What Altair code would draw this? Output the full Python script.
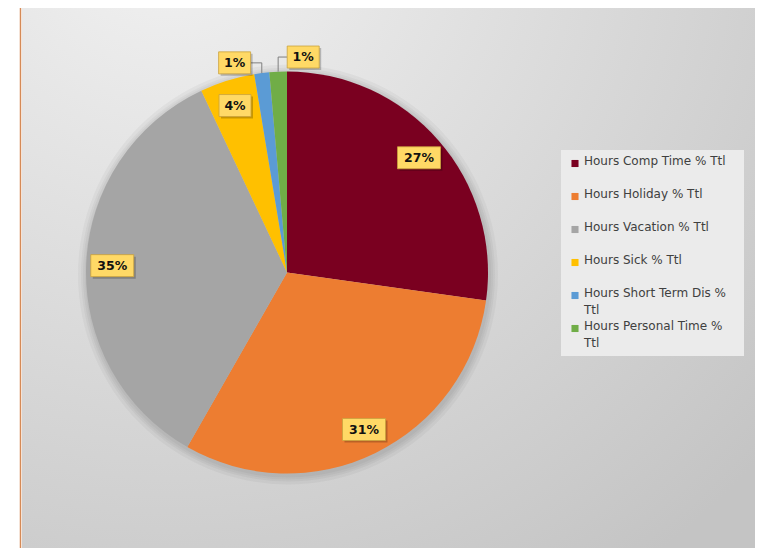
import altair as alt
import pandas as pd

# ---- data ----
cats = ["Hours Comp Time % Ttl", "Hours Holiday % Ttl", "Hours Vacation % Ttl",
        "Hours Sick % Ttl", "Hours Short Term Dis % Ttl", "Hours Personal Time % Ttl"]
values = [27.2, 31.0, 34.7, 4.4, 1.2, 1.4]
colors = ["#7A0020", "#ED7D31", "#A5A5A5", "#FFC000", "#5B9BD5", "#70AD47"]

df = pd.DataFrame({"cat": cats, "value": values, "idx": list(range(len(cats)))})

# ---- layout (pixels) ----
W, H = 747, 540
CX, CY = 279, 264.5          # pie centre in canvas pixels
R = 201                       # pie radius

xs = alt.Scale(domain=[-CX, W - CX], nice=False, zero=False)
ys = alt.Scale(domain=[-(H - CY), CY], nice=False, zero=False)
X = lambda f: alt.X(f, type="quantitative", scale=xs, axis=None)
Y = lambda f: alt.Y(f, type="quantitative", scale=ys, axis=None)
color = alt.Color("cat:N", scale=alt.Scale(domain=cats, range=colors), legend=None)

base = alt.Chart(df).transform_window(
    cum="sum(value)", sort=[alt.SortField("idx")], frame=[None, 0]
).transform_joinaggregate(
    total="sum(value)"
).transform_calculate(
    mid="(datum.cum - datum.value/2)/datum.total*2*PI",
    pct="datum.value/datum.total",
    text="format(datum.value/datum.total, '.0%')",
    hw="5 + 5.5*length(format(datum.value/datum.total, '.0%'))",
)

one = alt.Data(values=[{"a": 1}])

# background
bg = alt.Chart(one).mark_rect(
    color=alt.Gradient(gradient="radial", x1=0.2, y1=0.0, r1=0.0, x2=0.2, y2=0.0, r2=1.1,
                       stops=[alt.GradientStop(color="#F3F3F3", offset=0),
                              alt.GradientStop(color="#C4C4C4", offset=1)])
).encode(x=alt.value(14), x2=alt.value(W), y=alt.value(0), y2=alt.value(H))
white = alt.Chart(one).mark_rect(color="white").encode(
    x=alt.value(0), x2=alt.value(12), y=alt.value(0), y2=alt.value(H))
edge = alt.Chart(one).mark_rule(color="#D58A57", strokeWidth=1.5).encode(
    x=alt.value(12.5), y=alt.value(0), y2=alt.value(H))

# soft shadow round the pie
shadows = [alt.Chart(one).mark_arc(theta=0, theta2=6.2832, outerRadius=R + k, color="black",
                                   opacity=0.035).encode(x=alt.value(CX + 1), y=alt.value(CY + 2))
           for k in (2, 4, 6, 9)]

pie = base.mark_arc(outerRadius=R).encode(
    theta=alt.Theta("value:Q", stack=True),
    order=alt.Order("idx:Q"),
    color=color,
    x=alt.value(CX), y=alt.value(CY),
)

# ---- inside labels ----
inner = base.transform_filter("datum.pct >= 0.03").transform_calculate(
    lx=f"0.87*{R}*sin(datum.mid)", ly=f"0.87*{R}*cos(datum.mid)")

# ---- outside labels for tiny slices, spread apart ----
outer = base.transform_filter("datum.pct < 0.03").transform_window(
    rk="row_number()", sort=[alt.SortField("idx")]
).transform_joinaggregate(
    mm="mean(mid)", n="count()"
).transform_calculate(
    ang="datum.mm + (datum.rk - (datum.n + 1)/2)*0.32",
).transform_calculate(
    lx=f"1.075*{R}*sin(datum.ang)", ly=f"1.075*{R}*cos(datum.ang)",
    ax=f"{R}*sin(datum.mid)", ay=f"{R}*cos(datum.mid)",
).transform_calculate(
    ex="datum.lx < datum.ax ? datum.lx + datum.hw : datum.lx - datum.hw"
)

def label_layers(src):
    shadow = src.transform_calculate(
        x0="datum.lx - datum.hw + 2", x1="datum.lx + datum.hw + 2",
        y0="datum.ly - 11 - 2", y1="datum.ly + 11 - 2",
    ).mark_rect(color="black", opacity=0.22).encode(
        x=X("x0"), x2="x1", y=Y("y0"), y2="y1")
    box = src.transform_calculate(
        x0="datum.lx - datum.hw", x1="datum.lx + datum.hw",
        y0="datum.ly - 11", y1="datum.ly + 11",
    ).mark_rect(color="#FFD966", stroke="#C9A23E", strokeWidth=0.8).encode(
        x=X("x0"), x2="x1", y=Y("y0"), y2="y1")
    txt = src.mark_text(font="DejaVu Sans", fontWeight="bold", fontSize=12.5,
                        color="#111111", align="center", baseline="middle").encode(
        x=X("lx"), y=Y("ly"), text="text:N")
    return [shadow, box, txt]

lead_v = outer.mark_rule(color="#7F7F7F", strokeWidth=1).encode(
    x=X("ax"), y=Y("ay"), y2="ly")
lead_h = outer.mark_rule(color="#7F7F7F", strokeWidth=1).encode(
    x=X("ax"), x2="ex", y=Y("ly"))

# ---- legend ----
legbox = alt.Chart(one).mark_rect(color="#EBEBEB").encode(
    x=alt.value(553), x2=alt.value(736), y=alt.value(142), y2=alt.value(348))
leg = alt.Chart(df).transform_calculate(
    legY=f"{CY} - 155.5 - 33*datum.idx",
    sqx=f"567 - {CX}", tx=f"576 - {CX}",
    legText="length(datum.cat) > 22 ? replace(datum.cat, ' Ttl', '\\nTtl') : datum.cat",
)
leg_sq = leg.mark_square(size=50, opacity=1).encode(x=X("sqx"), y=Y("legY"), color=color)
leg_tx = leg.mark_text(font="DejaVu Sans", fontSize=12, color="#404040", align="left",
                       baseline="top", dy=-7.5, lineBreak="\n", lineHeight=17).encode(
    x=X("tx"), y=Y("legY"), text="legText:N")

chart = alt.layer(
    bg, white, edge, *shadows, pie,
    lead_v, lead_h,
    *label_layers(inner), *label_layers(outer),
    legbox, leg_sq, leg_tx,
).properties(
    width=W, height=H, padding=0, autosize=alt.AutoSizeParams(type="none"),
).configure_view(stroke=None)

chart.save("out.html", embed_options={"renderer": "svg", "actions": False})
